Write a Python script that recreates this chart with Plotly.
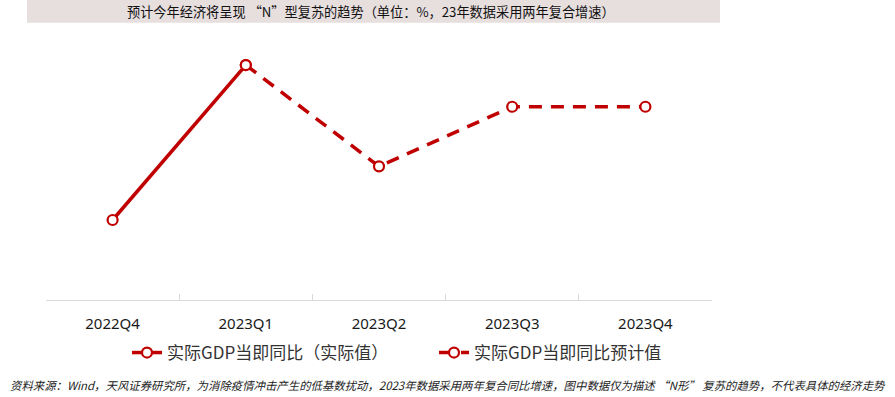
import plotly.graph_objects as go

categories = ["2022Q4", "2023Q1", "2023Q2", "2023Q3", "2023Q4"]
actual_values = [2.9, 5.5, None, None, None]
forecast_values = [None, 5.5, 3.8, 4.8, 4.8]
series_names = ["实际GDP当即同比（实际值）", "实际GDP当即同比预计值"]
title_text = "预计今年经济将呈现 “N”型复苏的趋势（单位：%，23年数据采用两年复合增速）"
source_text = ("资料来源：Wind，天风证券研究所，为消除疫情冲击产生的低基数扰动，"
               "2023年数据采用两年复合同比增速，图中数据仅为描述 “N形” 复苏的趋势，不代表具体的经济走势")

RED = "#C00000"
CJK = "Noto Sans CJK SC"

W, H = 895, 397
ML, MR, MT, MB = 46, 183, 30, 97
PW = W - ML - MR
PH = H - MT - MB


def px_x(x):
    return (x - ML) / PW


def px_y(y):
    return (H - MB - y) / PH


fig = go.Figure()
fig.add_trace(go.Scatter(
    x=categories, y=actual_values, name=series_names[0], mode="lines+markers",
    line=dict(color=RED, width=3.5),
    marker=dict(symbol="circle", size=10, color="white", line=dict(color=RED, width=2.2)),
    connectgaps=False,
))
fig.add_trace(go.Scatter(
    x=categories, y=forecast_values, name=series_names[1], mode="lines+markers",
    line=dict(color=RED, width=3.5, dash="13px,9px"),
    marker=dict(symbol="circle", size=10, color="white", line=dict(color=RED, width=2.2)),
    connectgaps=False,
))

fig.update_layout(
    width=W, height=H,
    margin=dict(l=ML, r=MR, t=MT, b=MB),
    paper_bgcolor="white", plot_bgcolor="white",
    font=dict(family=CJK, color="#333333"),
    showlegend=True,
    legend=dict(
        orientation="h", x=px_x(127), xanchor="left", y=px_y(353), yanchor="middle",
        entrywidth=262, entrywidthmode="pixels",
        font=dict(family=CJK, size=17, color="#333333"),
        bgcolor="rgba(0,0,0,0)",
    ),
    xaxis=dict(
        type="category", range=[-0.5, 4.5],
        showline=True, linecolor="#d9d9d9", linewidth=1,
        ticks="inside", ticklen=6, tickcolor="#d9d9d9", tickson="boundaries",
        showgrid=False, zeroline=False,
        tickfont=dict(family="Noto Sans", size=15, color="#1a1a1a"),
        ticklabelstandoff=10,
    ),
    yaxis=dict(
        range=[1.558, 6.088], visible=False, showgrid=False, zeroline=False,
    ),
    shapes=[dict(
        type="rect", xref="paper", yref="paper",
        x0=px_x(27), x1=px_x(720), y0=px_y(22.7), y1=px_y(0),
        fillcolor="#e7dede", line=dict(width=0), layer="below",
    )],
    annotations=[
        dict(text=title_text, xref="paper", yref="paper", x=px_x(371), y=px_y(11.5),
             xanchor="center", yanchor="middle", showarrow=False,
             font=dict(family=CJK, size=13.2, color="#111111")),
        dict(text="<i>" + source_text + "</i>", xref="paper", yref="paper",
             x=px_x(8), y=px_y(385), xanchor="left", yanchor="middle", showarrow=False,
             font=dict(family=CJK, size=11.4, color="#222222")),
    ],
)

fig.write_html("out.html", config={"displayModeBar": False},
               post_script="document.body.style.margin='0';document.body.style.padding='0';")
